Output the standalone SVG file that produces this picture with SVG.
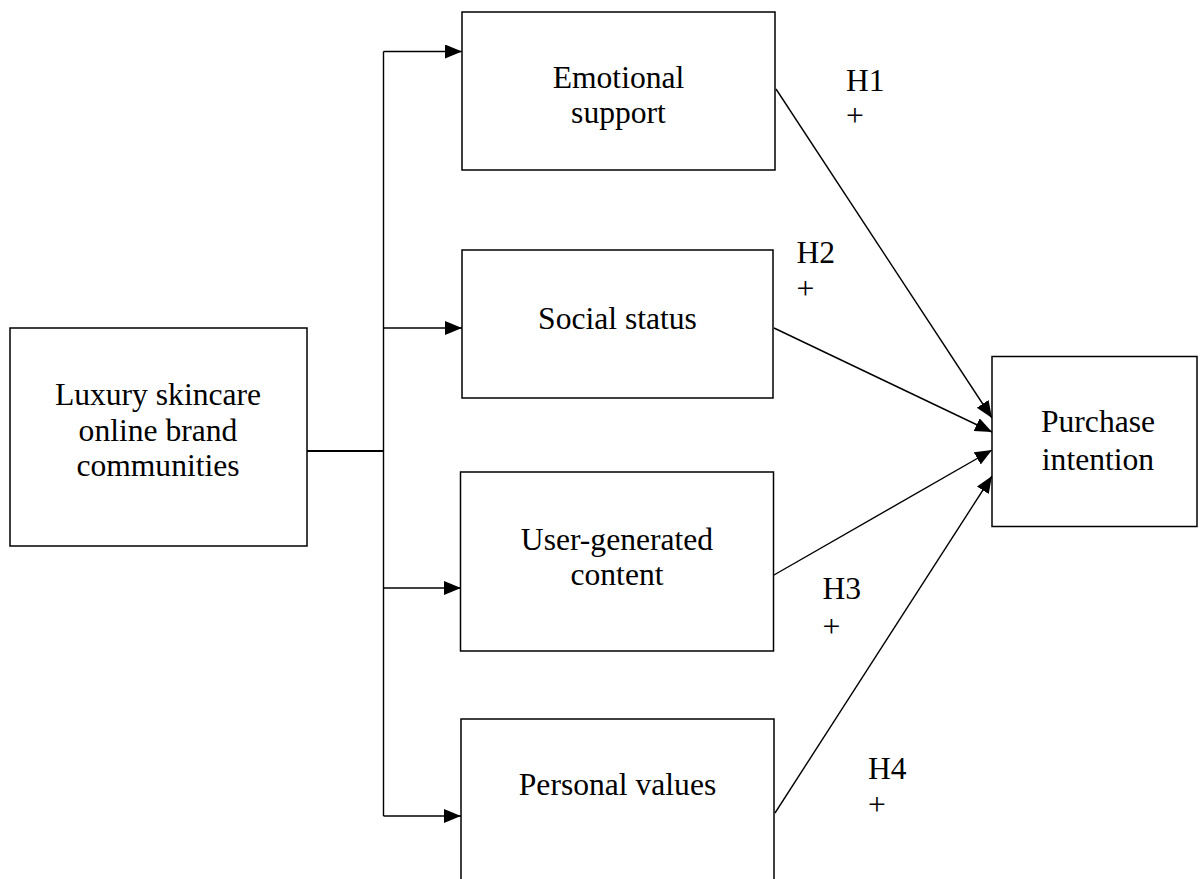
<svg xmlns="http://www.w3.org/2000/svg" width="1200" height="879" viewBox="0 0 1200 879">
<defs>
<style>
.box{fill:#fff;stroke:#000;stroke-width:1.5}
.t{font-family:"Liberation Serif","Times New Roman",serif;font-size:31.6px;fill:#000}
.c{text-anchor:middle}
.ln{fill:none;stroke:#000;stroke-width:1.4}
</style>
<marker id="ah" markerUnits="userSpaceOnUse" markerWidth="18" markerHeight="15" refX="17" refY="7" orient="auto">
<path d="M0,0 L17,7 L0,14 z" fill="#000"/>
</marker>
</defs>
<rect width="1200" height="879" fill="#fff"/>
<g id="connectors">
<line class="ln" x1="307" y1="451" x2="383.5" y2="451" style="stroke-width:2"/>
<line class="ln" x1="383.5" y1="51.5" x2="383.5" y2="816"/>
<line class="ln" x1="383.5" y1="51.5" x2="462" y2="51.5" marker-end="url(#ah)"/>
<line class="ln" x1="383.5" y1="328" x2="462" y2="328" marker-end="url(#ah)"/>
<line class="ln" x1="383.5" y1="588" x2="461" y2="588" marker-end="url(#ah)"/>
<line class="ln" x1="383.5" y1="816" x2="461" y2="816" marker-end="url(#ah)"/>
<line class="ln" x1="776" y1="89" x2="992" y2="418" marker-end="url(#ah)"/>
<line class="ln" x1="774" y1="328" x2="992" y2="432" marker-end="url(#ah)"/>
<line class="ln" x1="774" y1="575" x2="992" y2="450" marker-end="url(#ah)"/>
<line class="ln" x1="775" y1="813" x2="992" y2="476" marker-end="url(#ah)"/>
</g>
<g id="luxury">
<rect class="box" x="10" y="328" width="297" height="218"/>
<text class="t c" x="158" y="405">Luxury skincare</text>
<text class="t c" x="158" y="441">online brand</text>
<text class="t c" x="158" y="476">communities</text>
</g>
<g id="emotional">
<rect class="box" x="462" y="12" width="313" height="158"/>
<text class="t c" x="618.5" y="88">Emotional</text>
<text class="t c" x="618.5" y="123">support</text>
</g>
<g id="social">
<rect class="box" x="462" y="250" width="311" height="148"/>
<text class="t c" x="617.5" y="329">Social status</text>
</g>
<g id="ugc">
<rect class="box" x="460.5" y="472" width="313" height="179"/>
<text class="t c" x="617" y="550">User-generated</text>
<text class="t c" x="617" y="585">content</text>
</g>
<g id="personal">
<rect class="box" x="461" y="719" width="313" height="175"/>
<text class="t c" x="617.5" y="795">Personal values</text>
</g>
<g id="purchase">
<rect class="box" x="992" y="356.5" width="205" height="170"/>
<text class="t c" x="1098" y="432">Purchase</text>
<text class="t c" x="1098" y="470">intention</text>
</g>
<g id="labels">
<text class="t" x="846" y="91">H1</text>
<text class="t" x="846" y="126">+</text>
<text class="t" x="796.5" y="263">H2</text>
<text class="t" x="796.5" y="299">+</text>
<text class="t" x="822.5" y="599">H3</text>
<text class="t" x="822.5" y="637">+</text>
<text class="t" x="868" y="779">H4</text>
<text class="t" x="868" y="815">+</text>
</g>
</svg>
